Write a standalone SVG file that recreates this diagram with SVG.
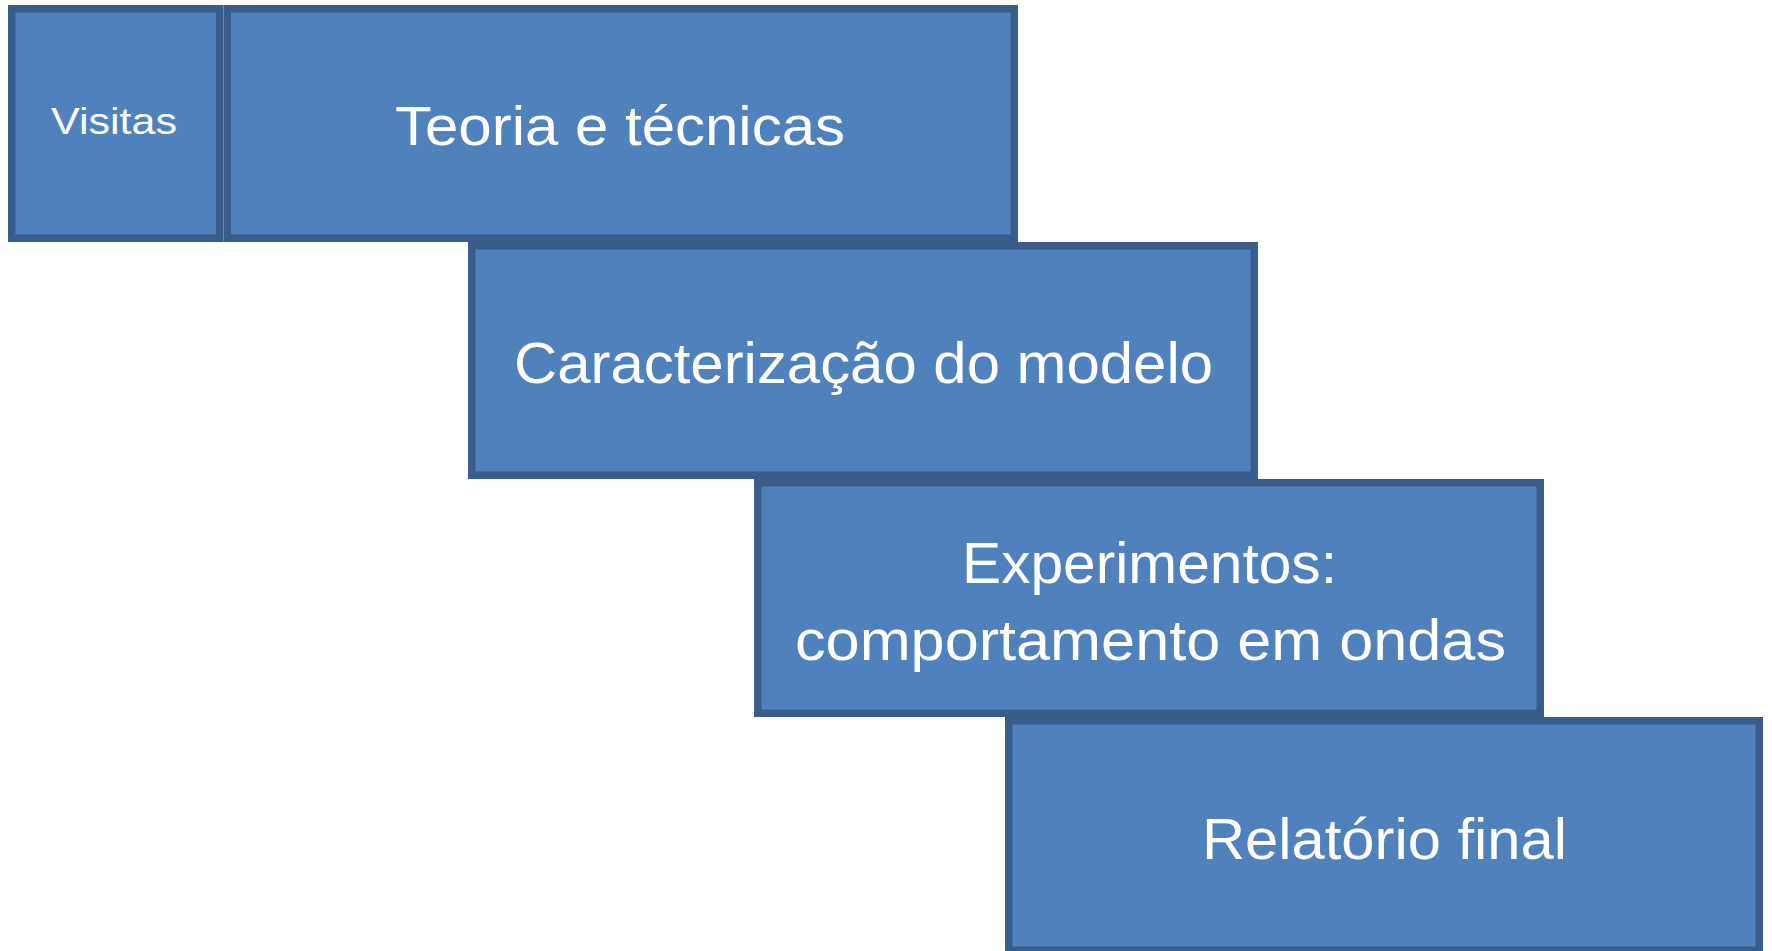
<svg xmlns="http://www.w3.org/2000/svg" width="1772" height="951" viewBox="0 0 1772 951">
<style>
.box{fill:#4F81BD;stroke:#385D8A;stroke-width:7.5}
.t{fill:#FFFFFF;font-family:"Liberation Sans",Arial,sans-serif;text-anchor:middle}
</style>
<rect width="1772" height="951" fill="#FFFFFF"/>
<g id="connectors"></g>
<g id="visitas">
<rect class="box" x="11.75" y="8.75" width="208" height="229.5"/>
<text class="t" x="114" y="134" font-size="36" textLength="126" lengthAdjust="spacingAndGlyphs">Visitas</text>
</g>
<g id="teoria">
<rect class="box" x="227.25" y="8.75" width="787" height="229.5"/>
<text class="t" x="620" y="145" font-size="56" textLength="450" lengthAdjust="spacingAndGlyphs">Teoria e técnicas</text>
</g>
<g id="caracterizacao">
<rect class="box" x="471.75" y="245.75" width="782.5" height="229.5"/>
<text class="t" x="863.5" y="383" font-size="57" textLength="699" lengthAdjust="spacingAndGlyphs">Caracterização do modelo</text>
</g>
<g id="experimentos">
<rect class="box" x="757.75" y="482.75" width="782.5" height="230.5"/>
<text class="t" x="1149.5" y="583" font-size="57" textLength="375" lengthAdjust="spacingAndGlyphs">Experimentos:</text>
<text class="t" x="1150.5" y="660" font-size="57" textLength="711" lengthAdjust="spacingAndGlyphs">comportamento em ondas</text>
</g>
<g id="relatorio">
<rect class="box" x="1008.75" y="720.75" width="750.5" height="229.5"/>
<text class="t" x="1384.5" y="859" font-size="57" textLength="365" lengthAdjust="spacingAndGlyphs">Relatório final</text>
</g>
</svg>
